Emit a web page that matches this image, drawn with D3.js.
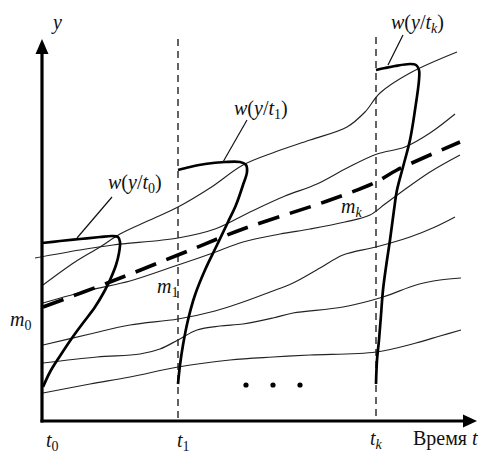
<!DOCTYPE html>
<html>
<head>
<meta charset="utf-8">
<script src="https://cdn.jsdelivr.net/npm/d3@7"></script>
<style>
  html, body { margin: 0; padding: 0; background: #fff; }
  svg { display: block; }
  text { font-family: "Liberation Serif", "Times New Roman", serif; fill: #111; }
</style>
</head>
<body>
<svg id="chart" width="486" height="454"></svg>
<script>
// ---------- DATA (time units along t, process values along y) ----------
const sectionTimes = [0, 13.6, 33.4];          // t0, t1, tk
const sectionLabels = ["0", "1", "k"];

// realisations y(t) of the random process: [t, y]
const realisationA = [[0.1,13.6],[3.3,15.9],[5.8,17.4],[7.8,18.7],[10.8,20.1],[13.6,21.4],[16.8,23.3],[20.1,25.6],[23.3,26.9],[26.8,28.1],[30.5,29.4],[32.3,30.9],[33.8,32.8],[36.8,34.8],[41.5,36.9]];
const realisationB = [[-0.7,16.3],[3.8,17.1],[7.1,17.6],[13.6,18.3],[17.3,19.2],[20.8,20.9],[24.3,22.5],[27.5,23.7],[30.5,25.3],[33.5,26.7],[36.3,27.4],[38.8,28.8],[41.3,30.7]];
const realisationC = [[0.1,11.8],[4.8,13.1],[8.8,14.0],[13.6,15.6],[16.8,16.7],[20.1,17.9],[23.8,18.7],[26.8,19.2],[30.3,19.9],[32.8,20.6],[34.3,21.7],[35.8,22.8],[38.8,24.9],[41.8,26.6]];
const realisationD = [[0.1,7.6],[4.8,8.7],[8.8,9.6],[13.6,10.2],[17.3,11.0],[20.1,11.9],[22.8,12.9],[25.1,13.8],[27.8,15.3],[30.1,16.6],[33.4,17.4],[36.8,18.4],[39.3,19.4],[41.3,20.4]];
const realisationE = [[0.1,5.8],[5.5,6.4],[9.8,6.7],[11.8,7.2],[13.6,8.1],[15.5,9.1],[17.8,9.5],[20.1,9.7],[23.1,10.3],[25.1,10.8],[30.1,11.4],[34.1,12.4],[37.4,13.6],[39.8,14.1],[41.9,14.3]];
const realisationF = [[0.1,2.8],[4.8,3.7],[8.8,4.4],[13.6,5.4],[18.8,6.1],[23.1,6.4],[26.8,6.6],[33.4,6.9],[37.4,7.8],[39.8,8.5],[41.9,9.1]];

// mean m(t): [t, y]
const meanLine = [[0.1,11.4],[6.8,13.9],[13.6,16.6],[20.1,19.2],[28.8,22.1],[33.4,23.9],[35.5,25.1],[41.8,27.9]];

// densities w(y/t_i): [y, w]
const density0 = [[3.4,0.1],[4.9,0.8],[6.5,1.8],[8.3,3.0],[9.8,4.1],[11.4,5.3],[12.9,6.2],[14.1,6.8],[15.6,7.4],[16.8,7.7],[17.9,7.8],[18.4,7.6],[18.5,7.0],[18.4,5.8],[18.2,3.8],[18.0,1.8],[17.8,0]];
const density1 = [[3.7,0],[5.6,0.2],[7.6,0.5],[10.1,1.0],[12.6,1.7],[15.1,2.7],[17.6,3.9],[19.9,5.0],[21.6,5.8],[23.6,6.5],[24.9,6.9],[25.6,6.8],[25.9,6.2],[25.9,4.7],[25.7,2.7],[25.4,1.2],[25.1,0]];
const densityK = [[3.7,0],[6.1,0.1],[8.1,0.3],[10.6,0.5],[13.1,0.7],[16.1,1.1],[18.1,1.4],[21.1,1.8],[23.1,2.1],[25.4,2.7],[28.1,3.4],[31.1,3.9],[34.1,4.3],[35.1,4.3],[35.6,4.0],[35.7,3.4],[35.5,1.9],[35.3,0.9],[35.1,0]];

// leader lines for density labels: [[t,y],[t,y]]
const leaders = [
  [[7.0,22.4],[3.5,18.3]],
  [[20.5,30.1],[18.1,25.9]],
  [[36.1,38.6],[34.6,35.6]]
];

// ellipsis dots: t positions, y
const dotTimes = [20.4, 23.1, 25.8];
const dotLevel = 3.6;

// axis extents
const tMax = 43.4, yMax = 38.1;

// ---------- SCALES ----------
const svg = d3.select("#chart");
const x = d3.scaleLinear().domain([0, tMax]).range([42, 476]);
const y = d3.scaleLinear().domain([0, yMax]).range([421, 40]);

svg.append("rect").attr("width", 486).attr("height", 454).attr("fill", "#fff");

const smooth = d3.line().x(d => x(d[0])).y(d => y(d[1])).curve(d3.curveCatmullRom.alpha(0.5));

// vertical dashed section lines
[sectionTimes[1], sectionTimes[2]].forEach((t, i) => {
  svg.append("line")
    .attr("x1", x(t)).attr("x2", x(t))
    .attr("y1", y(i === 0 ? 38.2 : 38.4)).attr("y2", y(0))
    .attr("stroke", "#222").attr("stroke-width", 1.4)
    .attr("stroke-dasharray", "7,5");
});

// thin realisations
[realisationA, realisationB, realisationC, realisationD, realisationE, realisationF].forEach(r => {
  svg.append("path").attr("d", smooth(r))
    .attr("fill", "none").attr("stroke", "#222").attr("stroke-width", 1.15);
});

// mean line
svg.append("path").attr("d", smooth(meanLine))
  .attr("fill", "none").attr("stroke", "#000").attr("stroke-width", 3.6)
  .attr("stroke-dasharray", "22,11");

// densities
[[density0, sectionTimes[0]], [density1, sectionTimes[1]], [densityK, sectionTimes[2]]].forEach(([dens, t0]) => {
  const pts = dens.map(d => [t0 + d[1], d[0]]);
  svg.append("path").attr("d", smooth(pts))
    .attr("fill", "none").attr("stroke", "#000").attr("stroke-width", 2.7)
    .attr("stroke-linejoin", "round");
});

// leader lines
leaders.forEach(l => {
  svg.append("line")
    .attr("x1", x(l[0][0])).attr("y1", y(l[0][1]))
    .attr("x2", x(l[1][0])).attr("y2", y(l[1][1]))
    .attr("stroke", "#111").attr("stroke-width", 1.2);
});

// dots
svg.selectAll("circle.dot").data(dotTimes).enter().append("circle")
  .attr("cx", d => x(d)).attr("cy", y(dotLevel)).attr("r", 2.6).attr("fill", "#000");

// axes
svg.append("line").attr("x1", x(0)).attr("x2", x(0))
  .attr("y1", y(0) + 1.5).attr("y2", y(yMax) + 12)
  .attr("stroke", "#000").attr("stroke-width", 3.2);
svg.append("path")
  .attr("d", `M${x(0)},${y(yMax) - 1} L${x(0) - 6.5},${y(yMax) + 14} L${x(0) + 6.5},${y(yMax) + 14} Z`)
  .attr("fill", "#000");
svg.append("line").attr("x1", x(0) - 1.5).attr("x2", x(tMax) - 12)
  .attr("y1", y(0)).attr("y2", y(0))
  .attr("stroke", "#000").attr("stroke-width", 3.2);
svg.append("path")
  .attr("d", `M${x(tMax) + 1},${y(0)} L${x(tMax) - 13},${y(0) - 6.5} L${x(tMax) - 13},${y(0) + 6.5} Z`)
  .attr("fill", "#000");

// ---------- LABELS ----------
function label(t, v, parts, size) {
  size = size || 20;
  const txt = svg.append("text").attr("x", x(t)).attr("y", y(v)).attr("font-size", size);
  let shifted = false;
  parts.forEach(p => {
    const ts = txt.append("tspan").text(p.s);
    if (p.i) ts.attr("font-style", "italic");
    if (p.sub) {
      ts.attr("font-size", size * 0.7).attr("dy", 4);
      shifted = true;
    } else if (shifted) {
      ts.attr("dy", -4);
      shifted = false;
    }
  });
}
const I = s => ({ s, i: true });
const N = s => ({ s });
const S = (s, it) => ({ s, sub: true, i: !!it });

label(1.1, 39.2, [I("y")]);
label(6.6, 23.2, [I("w"), N("("), I("y"), N("/"), I("t"), S(sectionLabels[0]), N(")")]);
label(19.2, 30.6, [I("w"), N("("), I("y"), N("/"), I("t"), S(sectionLabels[1]), N(")")]);
label(34.9, 39.2, [I("w"), N("("), I("y"), N("/"), I("t"), S(sectionLabels[2], true), N(")")]);
label(-3.2, 9.5, [I("m"), S(sectionLabels[0])]);
label(11.5, 12.8, [I("m"), S(sectionLabels[1])]);
label(29.9, 20.8, [I("m"), S(sectionLabels[2], true)]);
label(0.4, -2.6, [I("t"), S(sectionLabels[0])]);
label(13.5, -2.6, [I("t"), S(sectionLabels[1])]);
label(32.8, -2.4, [I("t"), S(sectionLabels[2], true)]);
label(37.1, -2.4, [N("Время "), I("t")]);
</script>
</body>
</html>
